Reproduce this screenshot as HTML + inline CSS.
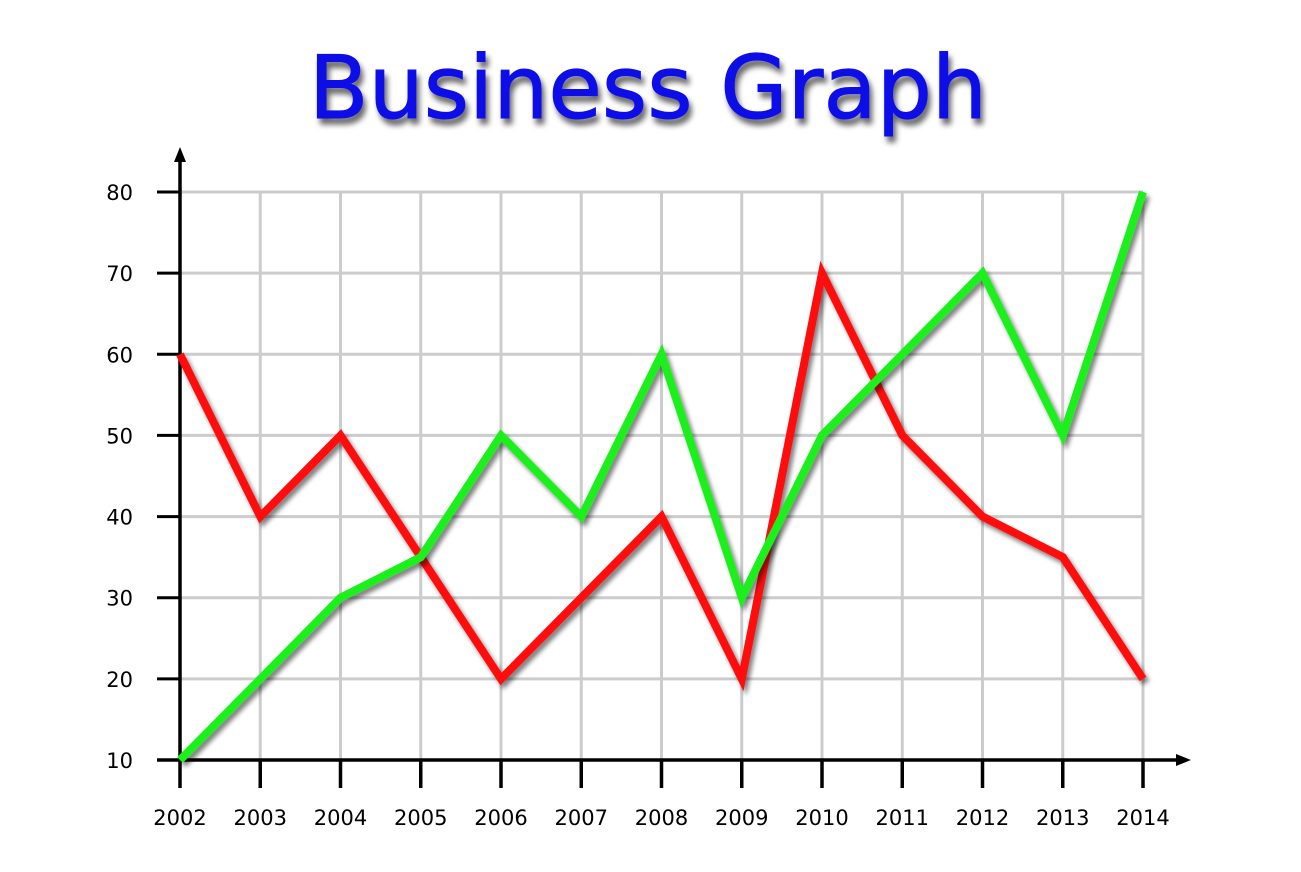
<!DOCTYPE html>
<html><head><meta charset="utf-8"><style>
body{margin:0;background:#fff;width:1301px;height:872px;overflow:hidden}
svg{display:block}
</style></head><body>
<svg id="chart" width="1301" height="872">
<defs>
<filter id="sh" x="-20%" y="-20%" width="140%" height="140%"><feGaussianBlur in="SourceAlpha" stdDeviation="2.5"/><feOffset dx="3" dy="4"/><feComponentTransfer><feFuncA type="linear" slope="0.5"/></feComponentTransfer><feMerge><feMergeNode/><feMergeNode in="SourceGraphic"/></feMerge></filter>
<filter id="tsh" x="-10%" y="-20%" width="120%" height="150%"><feGaussianBlur in="SourceAlpha" stdDeviation="3"/><feOffset dx="3" dy="6"/><feComponentTransfer><feFuncA type="linear" slope="0.6"/></feComponentTransfer><feMerge><feMergeNode/><feMergeNode in="SourceGraphic"/></feMerge></filter>
</defs>
<text x="648" y="118" text-anchor="middle" font-family="'DejaVu Sans','Liberation Sans',sans-serif" font-size="87" fill="#1010e8" stroke="#1010e8" stroke-width="1" filter="url(#tsh)">Business Graph</text>
<g id="grid"></g><g id="axes"></g><g id="series"></g>
</svg>
<script>
const years=["2002","2003","2004","2005","2006","2007","2008","2009","2010","2011","2012","2013","2014"];
const greenValues=[10,20,30,35,50,40,60,30,50,60,70,50,80];
const redValues=[60,40,50,35,20,30,40,20,70,50,40,35,20];
const yTicks=[10,20,30,40,50,60,70,80];
const NS="http://www.w3.org/2000/svg";
const x0=180,x1=1143,yTop=192,yBot=760;
function xs(i){return x0+i*(x1-x0)/(years.length-1);}
function ys(v){return yBot-(v-10)*(yBot-yTop)/70;}
function mk(tag,attrs,parent){const e=document.createElementNS(NS,tag);for(const k in attrs)e.setAttribute(k,attrs[k]);document.getElementById(parent).appendChild(e);return e;}
yTicks.forEach(v=>{
 if(v>10){const g=mk('line',{x1:x0,x2:x1,y1:ys(v),y2:ys(v),stroke:'#cccccc','stroke-width':3},'grid');
 
 }
 const t=mk('line',{x1:157,x2:x0,y1:ys(v),y2:ys(v),stroke:'#000','stroke-width':3},'axes');
 
 
 const l=mk('text',{x:133,y:ys(v)+8,'text-anchor':'end','font-family':"'DejaVu Sans',sans-serif",'font-size':21,fill:'#000'},'axes');
 l.textContent=v;
 
 
});
years.forEach((y,i)=>{
 if(i>0){const g=mk('line',{x1:xs(i),x2:xs(i),y1:yTop,y2:yBot,stroke:'#cccccc','stroke-width':3},'grid');
 
 }
 const t=mk('line',{x1:xs(i),x2:xs(i),y1:yBot,y2:788,stroke:'#000','stroke-width':3.5},'axes');
 
 
 const l=mk('text',{x:xs(i),y:825,'text-anchor':'middle','font-family':"'DejaVu Sans',sans-serif",'font-size':21,fill:'#000'},'axes');
 l.textContent=y;
 
 
});
const ya=mk('path',{d:'M180 760 L180 160',stroke:'#000','stroke-width':3.5,fill:'none'},'axes');


const yar=mk('path',{d:'M174 162 L180 147 L186 162 Z',fill:'#000'},'axes');


const xa=mk('path',{d:'M157 760 L1178 760',stroke:'#000','stroke-width':3.5,fill:'none'},'axes');


const xar=mk('path',{d:'M1176 754 L1191 760 L1176 766 Z',fill:'#000'},'axes');


function line(vals,color,name){
 const d=vals.map((v,i)=>(i?'L':'M')+xs(i).toFixed(1)+' '+ys(v).toFixed(1)).join(' ');
 const p=mk('path',{d:d,stroke:color,'stroke-width':8,fill:'none','stroke-linejoin':'miter','stroke-miterlimit':4,filter:'url(#sh)'},'series');
 
 
}
line(redValues,'#ff0a0a','red-series-line');
line(greenValues,'#1ef01e','green-series-line');
</script>
</body></html>
